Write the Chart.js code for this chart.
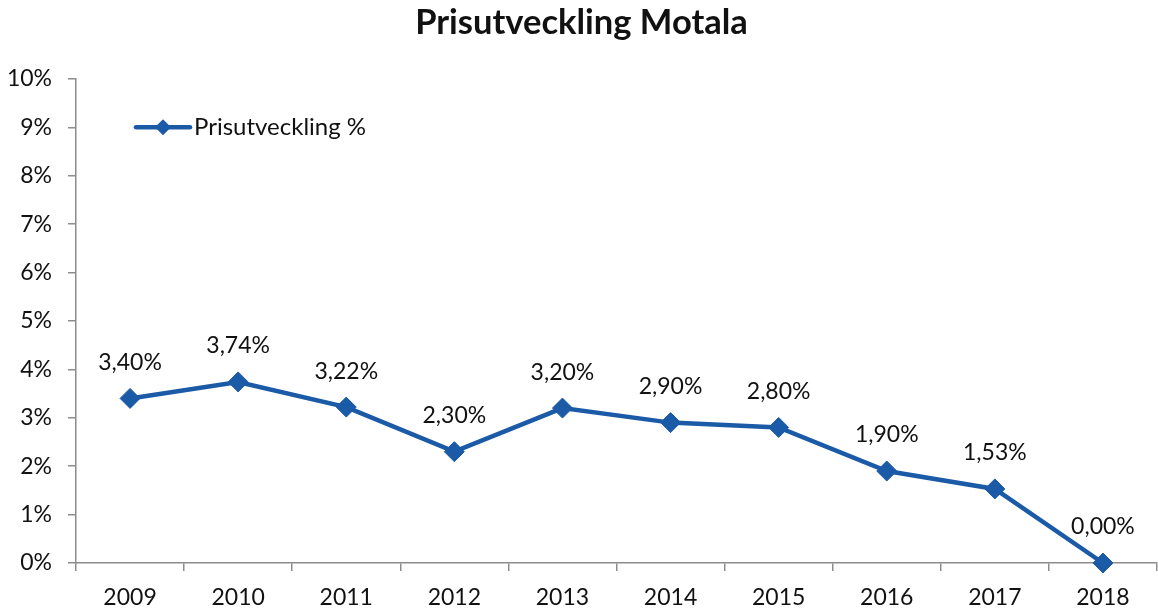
<!DOCTYPE html>
<html>
<head>
<meta charset="utf-8">
<script src="https://cdn.jsdelivr.net/npm/chart.js@4.4.1/dist/chart.umd.min.js"></script>
<style>
  html, body { margin: 0; padding: 0; background: #fff; }
  #wrap { width: 1158px; height: 609px; }
</style>
</head>
<body>
<div id="wrap"><canvas id="chart"></canvas></div>
<script>
const years = ['2009', '2010', '2011', '2012', '2013', '2014', '2015', '2016', '2017', '2018'];
const prisutveckling = [3.40, 3.74, 3.22, 2.30, 3.20, 2.90, 2.80, 1.90, 1.53, 0.00];
const seriesName = 'Prisutveckling %';
const chartTitle = 'Prisutveckling Motala';

const BLUE = '#1a5aa6';
const AXIS = '#8c8c8c';
const FONT = 'Lato, "Open Sans", sans-serif';

function fmtPct(v) {
    return v.toFixed(2).replace('.', ',') + '%';
}

// etiketter ovanför punkterna
const pointLabels = {
    id: 'pointLabels',
    afterDatasetsDraw(chart) {
        const ctx = chart.ctx;
        const meta = chart.getDatasetMeta(0);
        ctx.save();
        ctx.font = '23px ' + FONT;
        ctx.fillStyle = '#111';
        ctx.textAlign = 'center';
        ctx.textBaseline = 'middle';
        meta.data.forEach((pt, i) => {
            ctx.fillText(fmtPct(prisutveckling[i]), pt.x, pt.y - 36);
        });
        ctx.restore();
    }
};

// legend inne i diagramytan
const innerLegend = {
    id: 'innerLegend',
    afterDraw(chart) {
        const ctx = chart.ctx;
        const y = chart.scales.y.getPixelForValue(9);
        const x0 = chart.chartArea.left + 60;
        ctx.save();
        ctx.strokeStyle = BLUE;
        ctx.lineWidth = 4.5;
        ctx.lineCap = 'round';
        ctx.beginPath();
        ctx.moveTo(x0, y);
        ctx.lineTo(x0 + 54, y);
        ctx.stroke();
        ctx.fillStyle = BLUE;
        ctx.beginPath();
        ctx.moveTo(x0 + 27, y - 8);
        ctx.lineTo(x0 + 35, y);
        ctx.lineTo(x0 + 27, y + 8);
        ctx.lineTo(x0 + 19, y);
        ctx.closePath();
        ctx.fill();
        ctx.font = '24px ' + FONT;
        ctx.fillStyle = '#111';
        ctx.textAlign = 'left';
        ctx.textBaseline = 'middle';
        ctx.fillText(seriesName, x0 + 58, y);
        ctx.restore();
    }
};

new Chart(document.getElementById('chart').getContext('2d'), {
    type: 'line',
    data: {
        labels: years,
        datasets: [{
            label: seriesName,
            data: prisutveckling,
            borderColor: BLUE,
            backgroundColor: BLUE,
            borderWidth: 4.5,
            pointStyle: 'rectRot',
            pointRadius: 10,
            pointHoverRadius: 10,
            pointBackgroundColor: BLUE,
            pointBorderColor: BLUE,
            pointBorderWidth: 1,
            tension: 0,
            clip: false
        }]
    },
    options: {
        responsive: true,
        maintainAspectRatio: false,
        animation: false,
        layout: { autoPadding: false, padding: { left: 6, right: 1, top: 0, bottom: 0 } },
        scales: {
            x: {
                offset: true,
                afterFit(scale) { scale.height = 46; },
                grid: {
                    offset: true,
                    drawOnChartArea: false,
                    drawTicks: true,
                    tickLength: 8,
                    color: AXIS,
                    lineWidth: 1.5
                },
                border: { color: AXIS, width: 1.5 },
                ticks: {
                    color: '#111',
                    font: { family: FONT, size: 23 },
                    padding: 13,
                    maxRotation: 0
                }
            },
            y: {
                min: 0,
                max: 10,
                afterFit(scale) { scale.width = 70; },
                grid: {
                    drawOnChartArea: false,
                    drawTicks: true,
                    tickLength: 8,
                    color: AXIS,
                    lineWidth: 1.5
                },
                border: { color: AXIS, width: 1.5 },
                ticks: {
                    stepSize: 1,
                    color: '#111',
                    font: { family: FONT, size: 23 },
                    padding: 16,
                    callback: v => v + '%'
                }
            }
        },
        plugins: {
            legend: { display: false },
            tooltip: { enabled: false },
            title: {
                display: true,
                text: chartTitle,
                color: '#111',
                font: { family: FONT, size: 34.5, weight: 'bold' },
                padding: { top: 2, bottom: 35.5 }
            }
        }
    },
    plugins: [pointLabels, innerLegend]
});
</script>
</body>
</html>
